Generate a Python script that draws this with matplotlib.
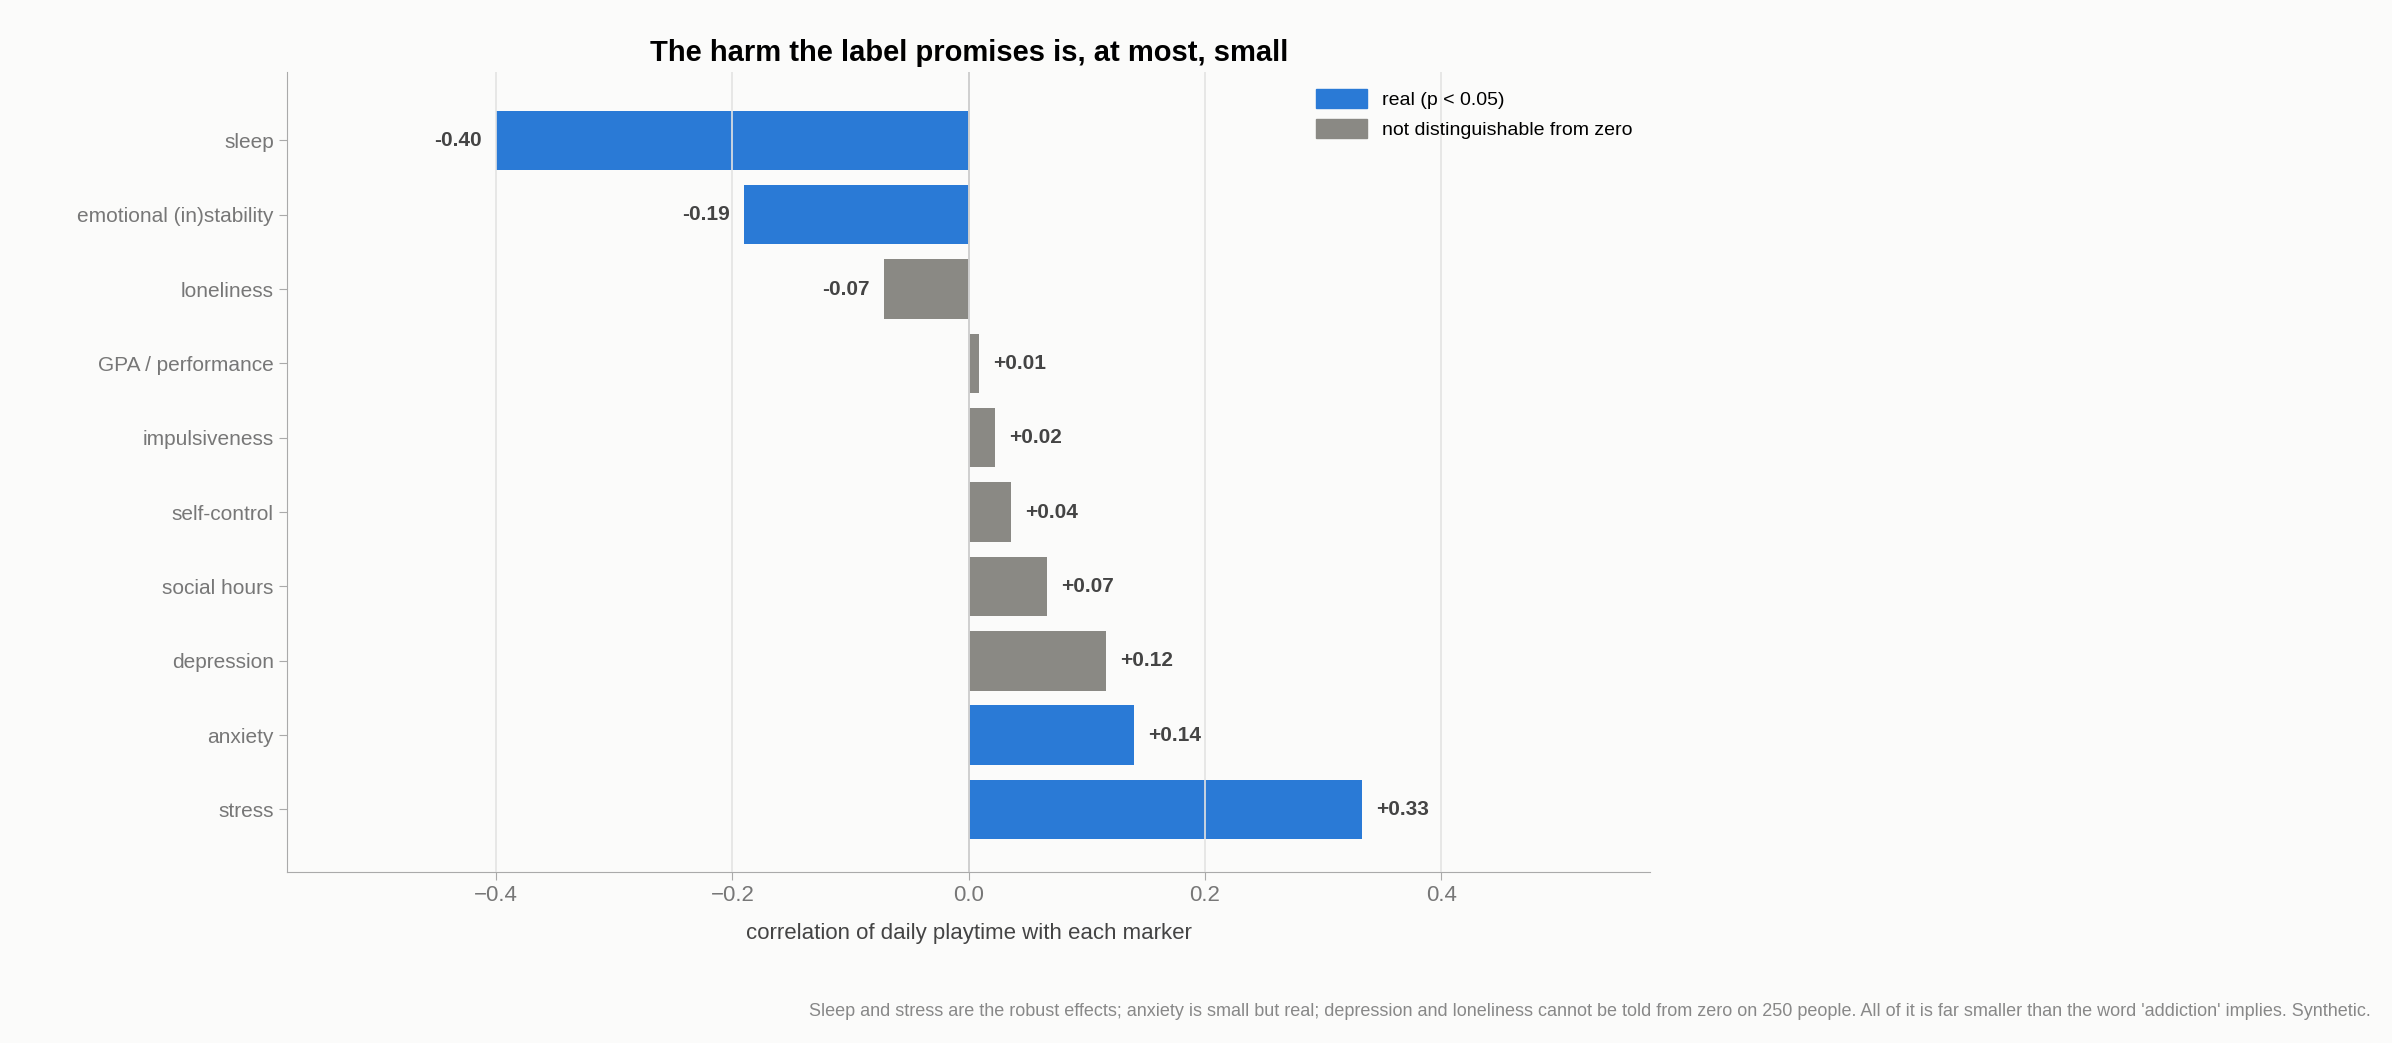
import matplotlib.pyplot as plt
from matplotlib.patches import Patch

plt.rcParams['font.family'] = ['Liberation Sans', 'DejaVu Sans']

markers = ['sleep', 'emotional (in)stability', 'loneliness', 'GPA / performance',
           'impulsiveness', 'self-control', 'social hours', 'depression', 'anxiety', 'stress']
corr = [-0.40, -0.19, -0.072, 0.009, 0.022, 0.036, 0.066, 0.116, 0.14, 0.333]
labels = ['-0.40', '-0.19', '-0.07', '+0.01', '+0.02', '+0.04', '+0.07', '+0.12', '+0.14', '+0.33']
significant = [True, True, False, False, False, False, False, False, True, True]

blue = '#2a7ad6'
grey = '#8a8984'
bg = '#fbfbfa'

fig = plt.figure(figsize=(23.92, 10.43), dpi=100, facecolor=bg)
ax = fig.add_axes([0.120, 0.164, 0.570, 0.767], facecolor=bg)

colors = [blue if s else grey for s in significant]
ypos = list(range(len(markers)))
ax.barh(ypos, corr, height=0.8, color=colors, zorder=2)
ax.set_axisbelow(False)
ax.grid(axis='x', color='#e3e3e3', linewidth=1.2, zorder=3)
ax.axvline(0, color='#cccccc', linewidth=1.2, zorder=3)

for y, v, t in zip(ypos, corr, labels):
    if v < 0:
        ax.text(v - 0.012, y, t, ha='right', va='center', fontsize=15, fontweight='bold', color='#444444')
    else:
        ax.text(v + 0.012, y, t, ha='left', va='center', fontsize=15, fontweight='bold', color='#444444')

ax.set_yticks(ypos)
ax.set_yticklabels(markers, fontsize=15, color='#777777')
ax.set_ylim(9.84, -0.92)
ax.set_xlim(-0.577, 0.577)
ax.set_xticks([-0.4, -0.2, 0.0, 0.2, 0.4])
ax.set_xticklabels(['\u22120.4', '\u22120.2', '0.0', '0.2', '0.4'], fontsize=16, color='#777777')
ax.tick_params(colors='#aaaaaa', labelcolor='#777777', length=6)
for s in ['top', 'right']:
    ax.spines[s].set_visible(False)
for s in ['left', 'bottom']:
    ax.spines[s].set_color('#aaaaaa')
ax.set_xlabel('correlation of daily playtime with each marker', fontsize=16, color='#444444', labelpad=12)
ax.set_title('The harm the label promises is, at most, small', fontsize=21, fontweight='bold', pad=8)

handles = [Patch(color=blue, label='real (p < 0.05)'),
           Patch(color=grey, label='not distinguishable from zero')]
ax.legend(handles=handles, loc='upper right', bbox_to_anchor=(1.0, 1.0), frameon=False, fontsize=14,
          handlelength=2.6, handleheight=1.1)

fig.text(0.991, 0.022, "Sleep and stress are the robust effects; anxiety is small but real; depression and loneliness "
         "cannot be told from zero on 250 people. All of it is far smaller than the word 'addiction' implies. Synthetic.",
         ha='right', va='bottom', fontsize=13, color='#888888')

fig.savefig('out.png', dpi=100, facecolor=bg)
